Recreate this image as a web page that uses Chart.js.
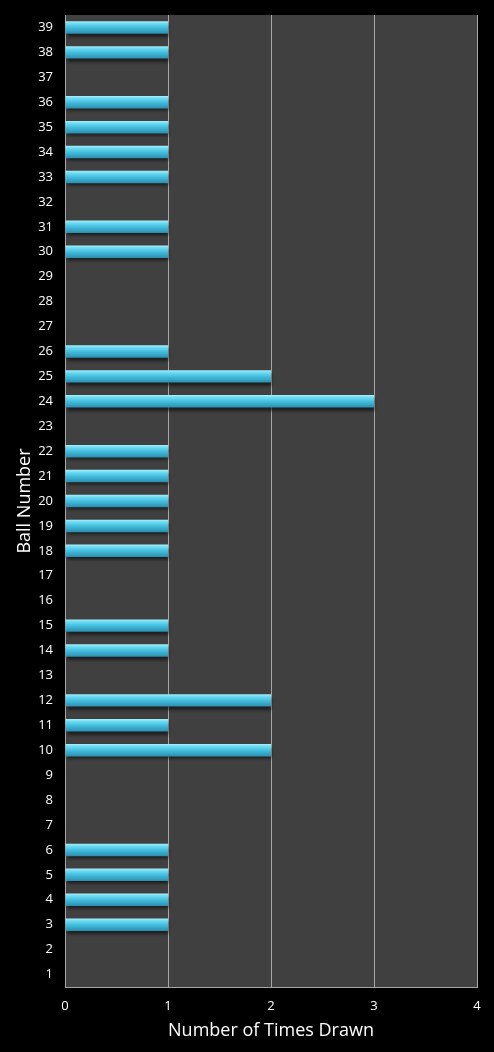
<!DOCTYPE html>
<html>
<head>
<meta charset="utf-8">
<script src="https://cdn.jsdelivr.net/npm/chart.js@4.4.0/dist/chart.umd.min.js"></script>
<style>
  html, body { margin: 0; padding: 0; background: #000; }
  #wrap { width: 494px; height: 1052px; position: relative; }
</style>
</head>
<body>
<div id="wrap"><canvas id="chart"></canvas></div>
<script>
// Ball number frequency (1..39), bottom to top
const balls = ['1','2','3','4','5','6','7','8','9','10','11','12','13','14','15','16','17','18','19','20',
               '21','22','23','24','25','26','27','28','29','30','31','32','33','34','35','36','37','38','39'];
const timesDrawn = [0,0,1,1,1,1,0,0,0,2,1,2,0,1,1,0,0,1,1,1,
                    1,1,0,3,2,1,0,0,0,1,1,0,1,1,1,1,0,1,1];
const xTicks = [0, 1, 2, 3, 4];

const FONT = 'Open Sans, DejaVu Sans, sans-serif';

// dark plot area behind the bars
const plotBg = {
  id: 'plotBg',
  beforeDraw(chart) {
    const { ctx, chartArea: a } = chart;
    ctx.save();
    ctx.fillStyle = '#404040';
    ctx.fillRect(a.left, a.top, a.right - a.left, a.bottom - a.top);
    ctx.restore();
  }
};

// soft drop shadow under the bars
const barShadow = {
  id: 'barShadow',
  beforeDatasetsDraw(chart) {
    const ctx = chart.ctx;
    ctx.save();
    ctx.shadowColor = 'rgba(0,0,0,0.55)';
    ctx.shadowOffsetX = 1;
    ctx.shadowOffsetY = 3;
    ctx.shadowBlur = 3;
  },
  afterDatasetsDraw(chart) { chart.ctx.restore(); }
};

function barGradient(c) {
  const chart = c.chart;
  const y = chart.scales.y;
  if (!y || c.dataIndex == null) return '#4cc3e3';
  const mid = y.getPixelForValue(c.dataIndex);
  const h = (y.height / balls.length) * 0.5 / 2;
  if (!isFinite(mid) || !isFinite(h) || h <= 0) return '#4cc3e3';
  const g = chart.ctx.createLinearGradient(0, mid - h, 0, mid + h);
  g.addColorStop(0, '#a9f0fb');
  g.addColorStop(0.18, '#6fdcf2');
  g.addColorStop(0.5, '#45bfdf');
  g.addColorStop(1, '#2b8eae');
  return g;
}

new Chart(document.getElementById('chart'), {
  type: 'bar',
  data: {
    labels: balls,
    datasets: [{
      data: timesDrawn,
      backgroundColor: barGradient,
      borderWidth: 0,
      barPercentage: 0.5,
      categoryPercentage: 1,
    }]
  },
  options: {
    indexAxis: 'y',
    responsive: true,
    maintainAspectRatio: false,
    animation: false,
    layout: { padding: { top: 15, right: 17, left: 0, bottom: 0 } },
    plugins: { legend: { display: false }, tooltip: { enabled: false } },
    scales: {
      x: {
        min: 0, max: 4,
        afterBuildTicks: s => { s.ticks = xTicks.map(v => ({ value: v })); },
        afterFit: s => { s.height = 65; },
        grid: { color: '#a6a6a6', lineWidth: 1, drawTicks: false },
        border: { display: true, color: '#a6a6a6' },
        ticks: { color: '#fff', font: { family: FONT, size: 13 }, padding: 11 },
        title: { display: true, text: 'Number of Times Drawn', color: '#fff',
                 font: { family: FONT, size: 18 }, padding: { top: 0, bottom: 10 } }
      },
      y: {
        reverse: true,
        afterFit: s => { s.width = 65; s.paddingTop = 0; s.paddingBottom = 0; },
        grid: { display: false, drawTicks: false },
        border: { display: true, color: '#a6a6a6' },
        ticks: { color: '#fff', font: { family: FONT, size: 13 }, padding: 12, autoSkip: false },
        title: { display: true, text: 'Ball Number', color: '#fff',
                 font: { family: FONT, size: 18 }, padding: { top: 14, bottom: 0 } }
      }
    }
  },
  plugins: [plotBg, barShadow]
});
</script>
</body>
</html>
